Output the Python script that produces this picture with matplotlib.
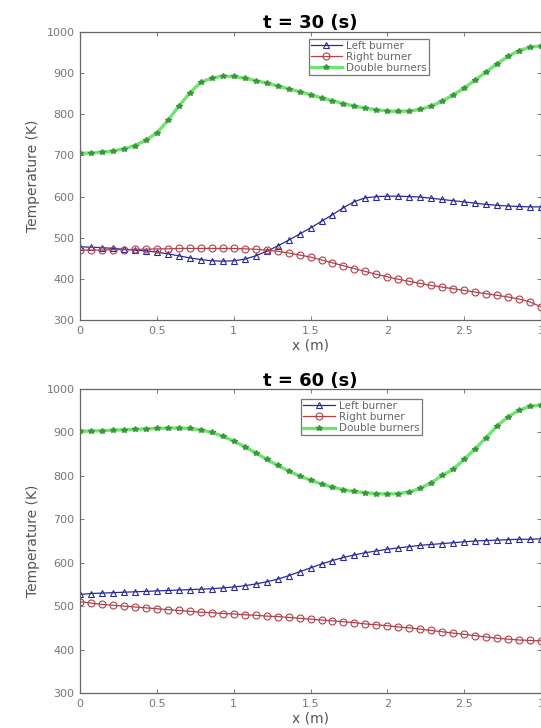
import matplotlib
matplotlib.use("Agg")
import matplotlib.pyplot as plt
import numpy as np

# sample positions along the rod (m)
x = np.linspace(0, 3, 43)

# t = 30 s
left_30 = [478, 477, 476, 474, 472, 470, 468, 465, 461, 456, 451, 447, 444, 443, 444,
           448, 456, 467, 480, 494, 509, 524, 540, 556, 573, 588, 597, 600, 601, 601,
           600, 599, 596, 593, 590, 587, 584, 581, 579, 577, 576, 575, 575]
right_30 = [470, 470, 470, 471, 471, 472, 472, 473, 473, 474, 474, 474, 474, 474, 474,
            473, 472, 470, 467, 463, 458, 453, 446, 439, 432, 425, 418, 411, 405, 399,
            394, 389, 384, 380, 376, 372, 368, 364, 360, 356, 351, 344, 332]
double_30 = [705, 706, 708, 711, 716, 724, 737, 755, 785, 820, 852, 878, 888, 893, 892,
             888, 882, 876, 869, 862, 855, 848, 840, 833, 826, 820, 815, 811, 808, 807,
             808, 812, 820, 832, 847, 864, 883, 903, 923, 941, 955, 963, 966]

# t = 60 s
left_60 = [527, 529, 530, 531, 532, 533, 534, 535, 536, 537, 538, 539, 540, 542, 544,
           547, 551, 556, 562, 570, 579, 588, 597, 605, 612, 618, 623, 627, 631, 634,
           637, 640, 642, 644, 646, 648, 650, 651, 652, 653, 654, 654, 655]
right_60 = [510, 507, 504, 502, 500, 498, 496, 494, 492, 490, 488, 486, 485, 483, 482,
            480, 479, 477, 476, 474, 472, 470, 468, 466, 464, 462, 459, 457, 455, 452,
            450, 447, 444, 441, 438, 435, 432, 429, 426, 424, 422, 421, 420]
double_60 = [903, 903, 904, 905, 906, 907, 908, 909, 910, 910, 909, 906, 900, 891, 880,
             867, 853, 838, 824, 811, 800, 790, 781, 774, 768, 764, 761, 759, 758, 759,
             763, 771, 784, 801, 815, 838, 862, 888, 915, 936, 951, 960, 963]

panels = [("t = 30 (s)", left_30, right_30, double_30),
          ("t = 60 (s)", left_60, right_60, double_60)]

fig = plt.figure(figsize=(5.41, 7.28), dpi=100)
ax_top = fig.add_axes([0.148, 0.5604, 0.852, 0.3956])
ax_bot = fig.add_axes([0.148, 0.0481, 0.852, 0.4176])
legend_pos = [(0.496, 0.976), (0.480, 0.967)]
title_pad = [3, 2]

for ax, (title, left, right, double), lpos, tp in zip([ax_top, ax_bot], panels,
                                                       legend_pos, title_pad):
    ax.plot(x, left, "-^", color="#2a2a9a", lw=0.9, ms=5, mfc="none", mew=0.8,
            label="Left burner")
    ax.plot(x, right, "-o", color="#b0404a", lw=0.9, ms=5, mfc="none", mew=0.8,
            label="Right burner")
    ax.plot(x, double, "-", color="#6fe56f", lw=2.4, label="Double burners",
            marker="*", ms=4, mfc="#3a963a", mec="#3a963a")
    ax.set_xlim(0, 3)
    ax.set_ylim(300, 1000)
    ax.set_xticks(np.arange(0, 3.01, 0.5))
    ax.set_xticklabels(["0", "0.5", "1", "1.5", "2", "2.5", "3"])
    ax.set_yticks(range(300, 1001, 100))
    ax.tick_params(direction="in", top=True, right=True, labelsize=8,
                   labelcolor="#777777", color="#666666", length=3, width=0.6, pad=4)
    for s in ax.spines.values():
        s.set_color("#666666")
        s.set_linewidth(0.9)
    ax.set_title(title, fontsize=13, fontweight="bold", pad=tp)
    ax.set_xlabel("x (m)", fontsize=10, color="#555555", labelpad=2)
    ax.set_ylabel("Temperature (K)", fontsize=10, color="#555555", labelpad=5)
    leg = ax.legend(loc="upper left", bbox_to_anchor=lpos, borderaxespad=0,
                    fontsize=7.5, handlelength=3.0, frameon=True, fancybox=False,
                    borderpad=0.2, labelspacing=0.1, handletextpad=0.4)
    leg.get_frame().set_edgecolor("#555555")
    leg.get_frame().set_linewidth(0.9)
    for t in leg.get_texts():
        t.set_color("#666666")

fig.savefig("out.png", dpi=100)
